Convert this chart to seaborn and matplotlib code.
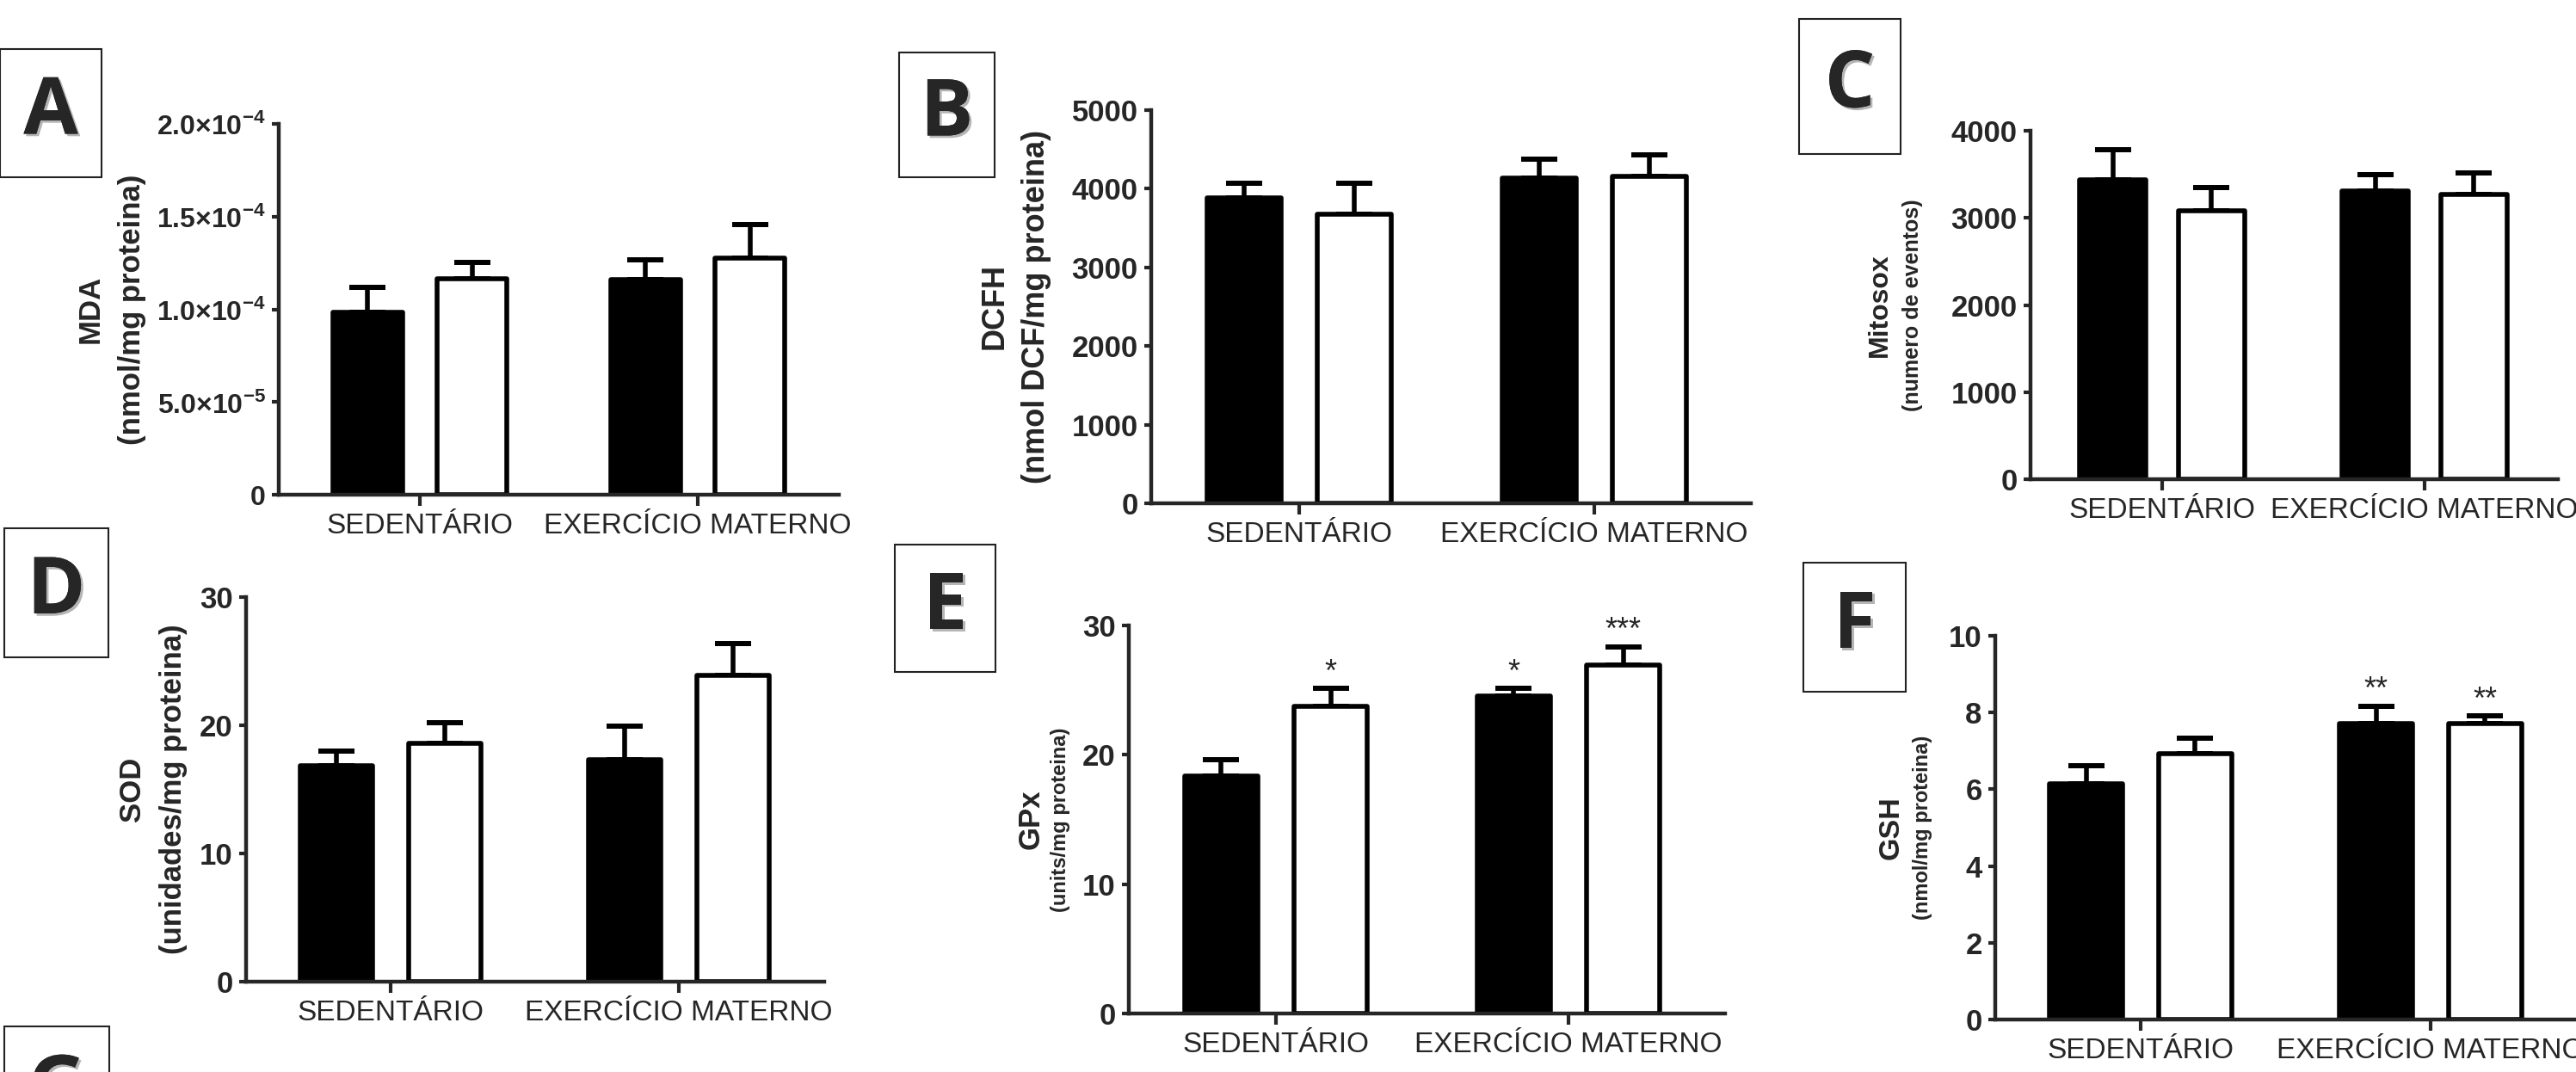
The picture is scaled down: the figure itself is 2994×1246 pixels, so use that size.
import numpy as np
import pandas as pd
import matplotlib
matplotlib.use("Agg")
import matplotlib.pyplot as plt
import matplotlib.patheffects as pe
from matplotlib.patches import Rectangle
from matplotlib.ticker import FuncFormatter
from matplotlib import font_manager
import seaborn as sns

# dados (preto / branco em cada categoria)
categorias = ["SEDENTÁRIO", "EXERCÍCIO MATERNO"]
grupos = ["Grupo 1", "Grupo 2"]

mda_preto = [0.985e-4, 1.161e-4]
mda_branco = [1.165e-4, 1.275e-4]
mda_erro_preto = [0.134e-4, 0.105e-4]
mda_erro_branco = [0.088e-4, 0.180e-4]

dcfh_preto = [3883, 4134]
dcfh_branco = [3680, 4156]
dcfh_erro_preto = [186, 238]
dcfh_erro_branco = [389, 273]

mitosox_preto = [3434, 3309]
mitosox_branco = [3083, 3266]
mitosox_erro_preto = [351, 184]
mitosox_erro_branco = [265, 246]

sod_preto = [16.87, 17.3]
sod_branco = [18.6, 23.9]
sod_erro_preto = [1.13, 2.6]
sod_erro_branco = [1.58, 2.45]

gpx_preto = [18.36, 24.55]
gpx_branco = [23.78, 26.93]
gpx_erro_preto = [1.23, 0.6]
gpx_erro_branco = [1.37, 1.43]
gpx_sig_preto = ["", "*"]
gpx_sig_branco = ["*", "***"]

gsh_preto = [6.14, 7.71]
gsh_branco = [6.93, 7.71]
gsh_erro_preto = [0.48, 0.46]
gsh_erro_branco = [0.41, 0.2]
gsh_sig_preto = ["", "**"]
gsh_sig_branco = ["", "**"]

sns.set_style("ticks")
plt.rcParams['font.family'] = ['Liberation Sans', 'DejaVu Sans']
plt.rcParams['mathtext.fontset'] = 'custom'
plt.rcParams['mathtext.rm'] = 'Liberation Sans'
plt.rcParams['mathtext.bf'] = 'Liberation Sans:bold'

# fonte estreita para os rótulos das categorias, se existir
nomes = {f.name for f in font_manager.fontManager.ttflist}
if 'Liberation Sans Narrow' in nomes:
    fonte_cat, tam_cat = 'Liberation Sans Narrow', 28
else:
    fonte_cat, tam_cat = 'Liberation Sans', 24

W, H = 2994, 1246
fig = plt.figure(figsize=(W / 100, H / 100), dpi=100)
fig.patch.set_facecolor('white')


def fmt_mda(v, pos):
    if v == 0:
        return "0"
    e = int(np.floor(np.log10(v)))
    m = v / 10 ** e
    return "%.1f×10$^{\\mathbf{%d}}$" % (m, e)


def painel(geo, preto, branco, erro_preto, erro_branco, ymax, yticks,
           rotulo1, rotulo2, tam1, tam2, xlab, sig_preto=None, sig_branco=None,
           formatter=None, ytam=25):
    left, right, top, bottom, t0, t1 = geo
    ax = fig.add_axes([left / W, 1 - bottom / H, (right - left) / W, (bottom - top) / H])
    df = pd.DataFrame({
        'categoria': categorias * 2,
        'grupo': [grupos[0]] * 2 + [grupos[1]] * 2,
        'valor': list(preto) + list(branco),
    })
    sns.barplot(data=df, x='categoria', y='valor', hue='grupo', hue_order=grupos,
                palette=['black', 'white'], edgecolor='black', linewidth=4,
                width=0.75, gap=0.33, errorbar=None, legend=False, ax=ax)
    sp = t1 - t0
    ax.set_xlim((left - t0) / sp, (right - t0) / sp)
    ax.set_ylim(0, ymax)
    ax.set_yticks(yticks)
    if formatter is not None:
        ax.yaxis.set_major_formatter(FuncFormatter(formatter))
    ax.set_xlabel('')
    ax.set_ylabel('')
    ax.set_facecolor('none')
    sns.despine(ax=ax)
    for s in ['left', 'bottom']:
        ax.spines[s].set_linewidth(3.2)
    ax.tick_params(axis='y', length=6, width=3, labelsize=ytam, pad=5)
    ax.tick_params(axis='x', length=9, width=3, labelsize=tam_cat, pad=6)
    for t in ax.get_yticklabels():
        t.set_fontweight('bold')
    for t in ax.get_xticklabels():
        t.set_family([fonte_cat, 'Liberation Sans'])

    erros = [erro_preto, erro_branco]
    sigs = [sig_preto, sig_branco]
    barras = list(ax.containers)
    for k, cont in enumerate(barras):
        xs = [b.get_x() + b.get_width() / 2 for b in cont]
        hs = [b.get_height() for b in cont]
        err = erros[k]
        ax.errorbar(xs, hs, yerr=[np.zeros(len(err)), err], fmt='none',
                    ecolor='black', elinewidth=4, capsize=15, capthick=4.3,
                    zorder=1)
        if sigs[k] is not None:
            for x, h, e, s in zip(xs, hs, err, sigs[k]):
                if s:
                    ax.annotate(s, xy=(x, h + e), xytext=(0, 6),
                                textcoords='offset points', ha='center',
                                va='baseline', fontsize=26, annotation_clip=False)
    for b in ax.patches:
        b.set_zorder(2)
        b.set_joinstyle('round')

    yc = 1 - (top + bottom) / 2 / H
    fig.text(xlab[0] / W, yc, rotulo1, rotation=90, ha='center', va='center',
             fontsize=tam1, fontweight='bold')
    fig.text(xlab[1] / W, yc, rotulo2, rotation=90, ha='center', va='center',
             fontsize=tam2, fontweight='bold')
    return ax


painel((324, 975, 144, 575, 488, 811), mda_preto, mda_branco, mda_erro_preto,
       mda_erro_branco, 2e-4, [0, 5e-5, 1e-4, 1.5e-4, 2e-4],
       "MDA", "(nmol/mg proteina)", 25, 25, (105, 153), formatter=fmt_mda,
       ytam=23)
painel((1338, 2035, 128, 585, 1510, 1853), dcfh_preto, dcfh_branco, dcfh_erro_preto,
       dcfh_erro_branco, 5000, [0, 1000, 2000, 3000, 4000, 5000],
       "DCFH", "(nmol DCF/mg proteina)", 26, 26, (1156, 1204))
painel((2360, 2973, 152, 557, 2513, 2818), mitosox_preto, mitosox_branco,
       mitosox_erro_preto, mitosox_erro_branco, 4000, [0, 1000, 2000, 3000, 4000],
       "Mitosox", "(numero de eventos)", 23, 18, (2185, 2223))
painel((286, 958, 694, 1141, 454, 789), sod_preto, sod_branco, sod_erro_preto,
       sod_erro_branco, 30, [0, 10, 20, 30],
       "SOD", "(unidades/mg proteina)", 25, 25, (153, 201))
painel((1312, 2005, 727, 1178, 1483, 1823), gpx_preto, gpx_branco, gpx_erro_preto,
       gpx_erro_branco, 30, [0, 10, 20, 30],
       "GPx", "(units/mg proteina)", 25, 17, (1198, 1233),
       sig_preto=gpx_sig_preto, sig_branco=gpx_sig_branco)
painel((2319, 3000, 739, 1185, 2488, 2825), gsh_preto, gsh_branco, gsh_erro_preto,
       gsh_erro_branco, 10, [0, 2, 4, 6, 8, 10],
       "GSH", "(nmol/mg proteina)", 24.5, 17, (2198, 2235),
       sig_preto=gsh_sig_preto, sig_branco=gsh_sig_branco)

# letras dos painéis em caixas
letras = ["A", "B", "C", "D", "E", "F", "G"]
caixas = [(0, 118, 57, 206), (1045, 1156, 61, 206), (2091, 2209, 22, 179),
          (5, 126, 614, 764), (1040, 1157, 633, 781), (2096, 2215, 654, 804),
          (5, 127, 1193, 1343)]
for letra, (x0, x1, y0, y1) in zip(letras, caixas):
    fig.add_artist(Rectangle((x0 / W, 1 - y1 / H), (x1 - x0) / W, (y1 - y0) / H,
                             transform=fig.transFigure, fill=False,
                             edgecolor='#222222', linewidth=1.5))
    fig.text((x0 + x1) / 2 / W, 1 - (y0 + y1) / 2 / H, letra, ha='center',
             va='center', fontsize=66, fontweight='bold', family='Open Sans',
             path_effects=[pe.withSimplePatchShadow(offset=(2, -2), alpha=0.3),
                           pe.Normal()])

fig.savefig('out.png', dpi=100, facecolor='white')
